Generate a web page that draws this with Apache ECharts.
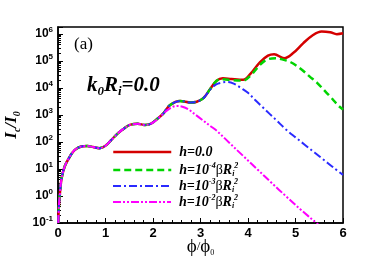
<!DOCTYPE html>
<html><head><meta charset="utf-8">
<script src="https://cdn.jsdelivr.net/npm/echarts@6/dist/echarts.min.js"></script>
<style>html,body{margin:0;padding:0;background:#fff}#c{width:382px;height:258px}</style>
</head><body><div id="c"></div>
<script>
// ---- data ----
const seriesNames = ['h0', 'h4', 'h3', 'h2'];
const yTickExponents = [-1, 0, 1, 2, 3, 4, 5, 6];
const redData = [
  [0.006,0.1],[0.018,0.4],[0.036,1.0],[0.07,3.9],[0.14,12.3],[0.25,28.8],[0.35,50.1],
  [0.49,67.6],[0.62,70.8],[0.74,64.6],[0.87,58.9],[1.0,72.4],[1.12,117],[1.26,209],
  [1.4,324],[1.51,427],[1.68,468],[1.83,427],[1.96,479],[2.1,741],[2.22,1150],
  [2.36,2340],[2.57,3310],[2.8,2880],[2.92,3090],[3.06,4170],[3.2,8910],[3.34,18600],
  [3.47,22900],[3.65,21400],[3.9,20000],[4.04,31600],[4.25,89100],[4.42,158000],
  [4.55,178000],[4.76,126000],[4.95,195000],[5.16,447000],[5.37,912000],[5.55,1230000],
  [5.73,1150000],[5.87,977000],[6.0,1050000]
];
const greenTail = [
  [3.47,20900],[3.65,19500],[3.9,18600],[4.05,28200],[4.25,70800],[4.4,112000],
  [4.58,126000],[4.75,110000],[4.9,89100],[5.1,52500],[5.3,26300],[5.45,15800],
  [5.6,8320],[5.73,4790],[5.9,2240],[6.0,1580]
];
const blueTail = [
  [3.2,8510],[3.33,13500],[3.45,15800],[3.55,16600],[3.7,14500],[3.85,10000],
  [4.0,6610],[4.15,3550],[4.3,2000],[4.45,1120],[4.6,631],[4.8,288],[5.0,148],
  [5.2,77.6],[5.4,40.7],[5.6,21.4],[5.8,11.2],[6.0,6.03]
];
const magentaTail = [
  [2.1,708],[2.25,1260],[2.38,1860],[2.5,2140],[2.62,2000],[2.75,1580],[2.9,1000],
  [3.05,631],[3.2,398],[3.35,251],[3.6,95.5],[3.9,30.2],[4.2,9.55],[4.5,3.02],
  [4.8,0.977],[5.1,0.324],[5.44,0.1],[5.5,0.0813]
];
// curves coincide with the h=0 curve before they split off
const greenData = redData.filter(p => p[0] <= 3.34).concat(greenTail);
const blueData = redData.filter(p => p[0] <= 3.06).concat(blueTail);
const magentaData = redData.filter(p => p[0] <= 1.96).concat(magentaTail);

// ---- styling ----
const SERIF = '"Liberation Serif","DejaVu Serif",serif';
const SANS = '"Liberation Sans",Arial,sans-serif';
const colors = ['#d40000', '#00d400', '#2a2aff', '#ff00ff'];
const widths = [2.5, 2.5, 2, 2];
const dashes = ['solid', [7, 4], [8, 3, 2, 3], [8, 2, 2, 2, 2, 2]];
const datas = [redData, greenData, blueData, magentaData];
const legendLabels = {
  h0: '{m|h=0.0}',
  h4: '{m|h=10}{sup|-4}{g|β}{m|R}{sub|i}{sup|2}',
  h3: '{m|h=10}{sup|-3}{g|β}{m|R}{sub|i}{sup|2}',
  h2: '{m|h=10}{sup|-2}{g|β}{m|R}{sub|i}{sup|2}'
};
const legendCenters = [153, 170, 186, 202];
const legendRich = {
  m: {fontFamily: SERIF, fontStyle: 'italic', fontWeight: 'bold', fontSize: 14, lineHeight: 16, color: '#000', verticalAlign: 'middle'},
  g: {fontFamily: SERIF, fontSize: 14, lineHeight: 16, color: '#000', verticalAlign: 'middle'},
  sup: {fontFamily: SERIF, fontStyle: 'italic', fontWeight: 'bold', fontSize: 8, lineHeight: 8, color: '#000', verticalAlign: 'top'},
  sub: {fontFamily: SERIF, fontStyle: 'italic', fontWeight: 'bold', fontSize: 8, lineHeight: 8, color: '#000', verticalAlign: 'bottom'}
};

const chart = echarts.init(document.getElementById('c'), null, {renderer: 'canvas'});
chart.setOption({
  animation: false,
  backgroundColor: '#fff',
  grid: {left: 58, right: 39, top: 27, bottom: 35, show: true, borderColor: '#000', borderWidth: 1.5,
         containLabel: false, outerBoundsMode: 'none'},
  title: [
    {text: '(a)', left: 74, top: 36, padding: 0,
     textStyle: {fontFamily: SERIF, fontSize: 17, fontWeight: 'normal', color: '#000'}},
    {text: '{k|k}{s|0}{k|R}{s|i}{k|=0.0}', left: 87, top: 74, padding: 0,
     textStyle: {rich: {
       k: {fontFamily: SERIF, fontStyle: 'italic', fontWeight: 'bold', fontSize: 21, lineHeight: 24, color: '#000', verticalAlign: 'middle'},
       s: {fontFamily: SERIF, fontStyle: 'italic', fontWeight: 'bold', fontSize: 13, lineHeight: 13, color: '#000', verticalAlign: 'bottom'}
     }}}
  ],
  legend: seriesNames.map((n, i) => ({
    data: [n], left: 112, top: legendCenters[i] - 8, padding: 0, orient: 'vertical',
    itemWidth: 58, itemHeight: 16, itemGap: 0, selectedMode: false,
    formatter: name => legendLabels[name],
    textStyle: {rich: legendRich, padding: [0, 0, 0, 3]},
    lineStyle: {width: widths[i]},
    itemStyle: {opacity: 0}
  })),
  xAxis: {
    type: 'value', min: 0, max: 6, interval: 1,
    axisLine: {show: true, lineStyle: {color: '#000', width: 1.5}},
    axisTick: {show: true, inside: true, length: 5, lineStyle: {color: '#000', width: 1}},
    minorTick: {show: true, splitNumber: 5, length: 3, lineStyle: {color: '#000', width: 1}},
    splitLine: {show: false}, minorSplitLine: {show: false},
    axisLabel: {fontFamily: SANS, fontWeight: 'bold', fontSize: 13, color: '#000', margin: 4},
    name: '{a|ϕ}{b|/}{a|ϕ}{c|0}', nameLocation: 'middle', nameGap: 14, nameMoveOverlap: false,
    nameTextStyle: {rich: {
      a: {fontFamily: SERIF, fontSize: 19, lineHeight: 20, color: '#000', verticalAlign: 'middle'},
      b: {fontFamily: SERIF, fontSize: 13, lineHeight: 20, color: '#000', verticalAlign: 'middle'},
      c: {fontFamily: SERIF, fontSize: 8, lineHeight: 8, color: '#000', verticalAlign: 'bottom'}
    }}
  },
  yAxis: {
    type: 'log', logBase: 10, min: 0.1, max: 1.8e6,
    axisLine: {show: true, lineStyle: {color: '#000', width: 1.5}},
    axisTick: {show: true, inside: true, length: 5, lineStyle: {color: '#000', width: 1}},
    minorTick: {show: true, splitNumber: 9, length: 3, lineStyle: {color: '#000', width: 1}},
    splitLine: {show: false}, minorSplitLine: {show: false},
    axisLabel: {
      margin: 5,
      formatter: v => {
        const e = Math.log10(v), r = Math.round(e);
        if (Math.abs(e - r) > 0.01 || yTickExponents.indexOf(r) < 0) return '';
        return '{b|10}{s|' + r + '}';
      },
      rich: {
        b: {fontFamily: SANS, fontWeight: 'bold', fontSize: 12, lineHeight: 16, color: '#000', verticalAlign: 'middle'},
        s: {fontFamily: SANS, fontWeight: 'bold', fontSize: 8, lineHeight: 10, color: '#000', verticalAlign: 'top'}
      }
    },
    name: '{i|I}{s|c}{i|/I}{s|0}', nameLocation: 'middle', nameGap: 36, nameMoveOverlap: false,
    nameTextStyle: {rich: {
      i: {fontFamily: SERIF, fontStyle: 'italic', fontWeight: 'bold', fontSize: 17, lineHeight: 20, color: '#000', verticalAlign: 'middle'},
      s: {fontFamily: SERIF, fontStyle: 'italic', fontWeight: 'bold', fontSize: 10, lineHeight: 10, color: '#000', verticalAlign: 'bottom'}
    }}
  },
  series: seriesNames.map((n, i) => ({
    name: n, type: 'line', data: datas[i], symbol: 'circle', showSymbol: false,
    smooth: 0.35, clip: true,
    lineStyle: {color: colors[i], width: widths[i], type: dashes[i]},
    itemStyle: {color: colors[i]}
  }))
});
</script></body></html>
